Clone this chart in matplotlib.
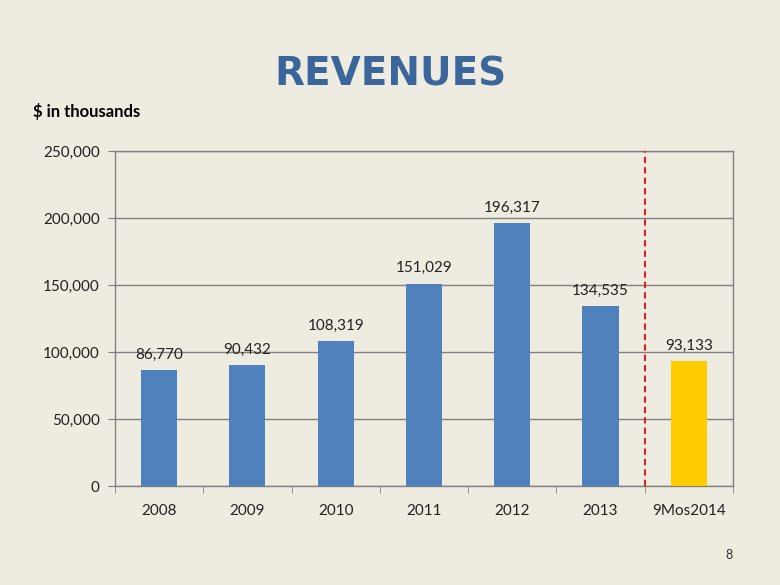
import matplotlib.pyplot as plt

categories = ["2008", "2009", "2010", "2011", "2012", "2013", "9Mos2014"]
revenues = [86770, 90432, 108319, 151029, 196317, 134535, 93133]
bar_colors = ["#4F81BD"] * 6 + ["#FFCC00"]
yticks = [0, 50000, 100000, 150000, 200000, 250000]

bg = "#EEEBE0"
plt.rcParams['font.family'] = ['Lato', 'DejaVu Sans']

fig = plt.figure(figsize=(7.8, 5.85), dpi=100, facecolor=bg)
ax = fig.add_axes([0.1474, 0.1692, 0.7923, 0.5727], facecolor=bg)

x = range(len(categories))
ax.bar(x, revenues, width=0.41, color=bar_colors, zorder=3)
for i, v in enumerate(revenues):
    ax.annotate(f"{v:,}", (i, v), xytext=(0, 6), textcoords="offset points",
                ha="center", va="bottom", fontsize=11, color="#222222")

ax.set_xlim(-0.5, len(categories) - 0.5)
ax.set_ylim(0, 250000)
ax.set_yticks(yticks)
ax.set_yticklabels([f"{t:,}" for t in yticks], fontsize=11, color="#222222")
ax.set_xticks(list(x))
ax.set_xticklabels(categories, fontsize=11, color="#222222")
ax.set_xticks([i - 0.5 for i in range(len(categories) + 1)], minor=True)
ax.tick_params(axis="x", which="major", length=0, pad=13)
ax.tick_params(axis="x", which="minor", length=5, color="#808080", direction="out")
ax.tick_params(axis="y", length=5, color="#808080", direction="out", pad=6)

ax.grid(axis="y", color="#808080", linewidth=1, zorder=1)
for s in ax.spines.values():
    s.set_color("#808080")
    s.set_linewidth(1)

# divider between full years and 9 months
ax.axvline(5.5, ymin=0, ymax=1, color="#E02020", linestyle=(0, (3, 2)), linewidth=1.5, zorder=4)

fig.text(0.5, 0.873, "REVENUES", ha="center", va="center", fontsize=28,
         fontweight="bold", color="#3A669C", family="DejaVu Sans")
fig.text(0.042, 0.81, "$ in thousands", ha="left", va="center", fontsize=12,
         fontweight="bold", color="black")
fig.text(0.935, 0.051, "8", ha="center", va="center", fontsize=9, color="#333333")

fig.savefig("out.png", dpi=100, facecolor=bg)
